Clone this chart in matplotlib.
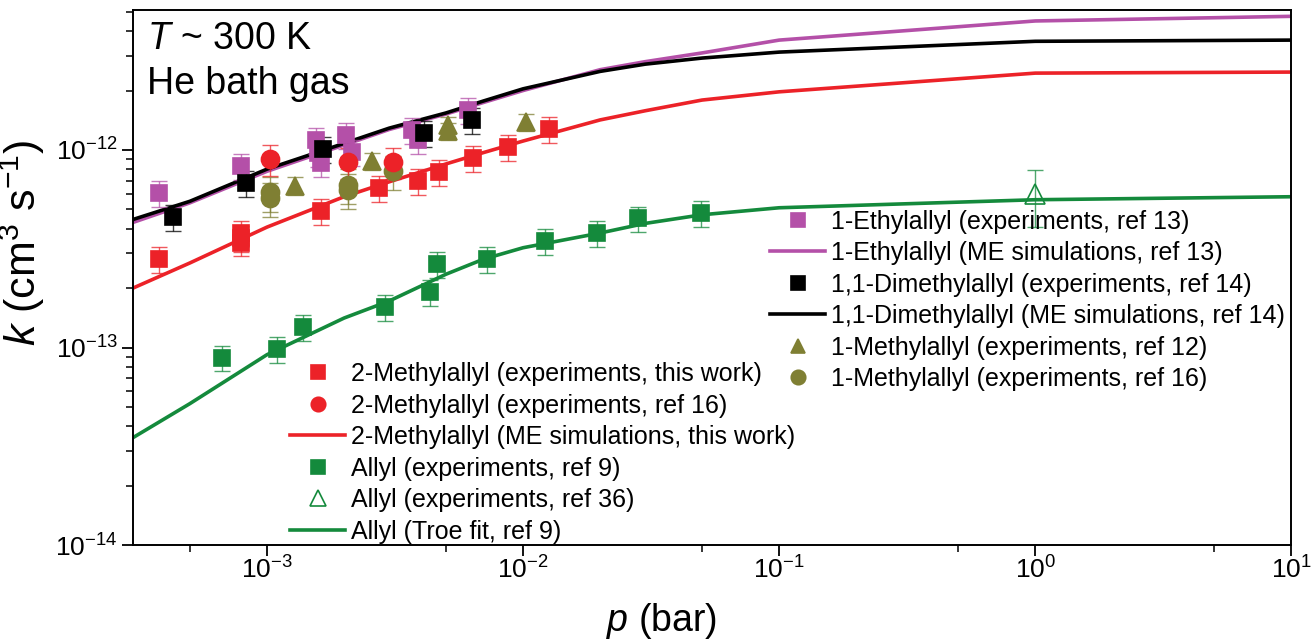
import matplotlib
matplotlib.use('Agg')
import matplotlib.pyplot as plt
import matplotlib.ticker as ticker
import numpy as np

plt.rcParams['font.family'] = ['Liberation Sans', 'DejaVu Sans']
plt.rcParams['mathtext.fontset'] = 'custom'
plt.rcParams['mathtext.rm'] = 'Liberation Sans'
plt.rcParams['mathtext.it'] = 'Liberation Sans:italic'
plt.rcParams['mathtext.default'] = 'regular'

# ---- data (p in bar, k in cm^3 s^-1) ----
ethyl_p = [3.8e-4, 7.9e-4, 1.55e-3, 1.58e-3, 1.62e-3, 2.03e-3, 2.14e-3, 3.7e-3, 3.9e-3, 6.1e-3]
ethyl_k = [6.05e-13, 8.3e-13, 1.12e-12, 9.6e-13, 8.6e-13, 1.19e-12, 9.8e-13, 1.26e-12, 1.12e-12, 1.6e-12]

dimethyl_p = [4.3e-4, 8.3e-4, 1.65e-3, 4.1e-3, 6.3e-3]
dimethyl_k = [4.6e-13, 6.8e-13, 1.01e-12, 1.22e-12, 1.42e-12]

methyl12_p = [1.29e-3, 2.56e-3, 5.1e-3, 5.1e-3, 1.03e-2]
methyl12_k = [6.6e-13, 8.8e-13, 1.34e-12, 1.25e-12, 1.39e-12]

methyl16_p = [1.03e-3, 1.03e-3, 2.07e-3, 2.07e-3, 3.1e-3]
methyl16_k = [6.1e-13, 5.7e-13, 6.65e-13, 6.3e-13, 7.8e-13]

meallyl_p = [3.8e-4, 7.9e-4, 7.9e-4, 7.9e-4, 1.62e-3, 2.73e-3, 3.9e-3, 4.7e-3, 6.4e-3, 8.7e-3, 1.26e-2]
meallyl_k = [2.8e-13, 3.8e-13, 3.6e-13, 3.4e-13, 4.9e-13, 6.4e-13, 7.0e-13, 7.7e-13, 9.1e-13, 1.03e-12, 1.28e-12]

meallyl16_p = [1.03e-3, 2.07e-3, 3.1e-3]
meallyl16_k = [9.0e-13, 8.7e-13, 8.7e-13]

allyl_p = [6.7e-4, 1.09e-3, 1.38e-3, 2.9e-3, 4.35e-3, 4.6e-3, 7.2e-3, 1.22e-2, 1.94e-2, 2.8e-2, 4.95e-2]
allyl_k = [8.9e-14, 9.8e-14, 1.27e-13, 1.6e-13, 1.9e-13, 2.65e-13, 2.8e-13, 3.46e-13, 3.8e-13, 4.5e-13, 4.8e-13]

allyl36_p = [1.0]
allyl36_k = [6.0e-13]

# model curves
sim_p = [3e-4, 5e-4, 1e-3, 2e-3, 3e-3, 5e-3, 7e-3, 1e-2, 2e-2, 3e-2, 5e-2, 0.1, 1.0, 10.0]
ethyl_sim = [4.3e-13, 5.4e-13, 7.8e-13, 1.06e-12, 1.27e-12, 1.52e-12, 1.74e-12, 2.0e-12, 2.55e-12, 2.8e-12, 3.1e-12, 3.6e-12, 4.5e-12, 4.75e-12]
dimethyl_sim = [4.45e-13, 5.5e-13, 8.0e-13, 1.08e-12, 1.29e-12, 1.54e-12, 1.77e-12, 2.04e-12, 2.5e-12, 2.72e-12, 2.92e-12, 3.13e-12, 3.55e-12, 3.6e-12]
meallyl_sim = [2.0e-13, 2.68e-13, 4.07e-13, 5.8e-13, 6.9e-13, 8.5e-13, 9.7e-13, 1.11e-12, 1.42e-12, 1.58e-12, 1.79e-12, 1.97e-12, 2.45e-12, 2.48e-12]
allyl_fit = [3.5e-14, 5.2e-14, 9.2e-14, 1.41e-13, 1.72e-13, 2.35e-13, 2.8e-13, 3.2e-13, 3.8e-13, 4.25e-13, 4.7e-13, 5.1e-13, 5.6e-13, 5.8e-13]

x_ticks = [1e-3, 1e-2, 1e-1, 1e0, 1e1]
y_ticks = [1e-14, 1e-13, 1e-12]

c_mag = '#b450a8'
c_blk = '#000000'
c_olv = '#7f7f33'
c_red = '#ec2228'
c_grn = '#148a3c'

fig = plt.figure(figsize=(13.11, 6.39), dpi=100)
ax = fig.add_axes([0.1015, 0.147, 0.8835, 0.837])

def errpts(p, k, color, marker, frac=0.15, ms=12, mfc=None):
    k = np.array(k)
    ax.errorbar(p, k, yerr=frac * k, fmt='none', ecolor=color, elinewidth=1.0,
                capsize=6, capthick=1.0, alpha=0.75, zorder=3)
    h, = ax.plot(p, k, linestyle='none', marker=marker, markersize=ms, color=color,
                 markerfacecolor=mfc if mfc else color, markeredgewidth=1.2, zorder=4)
    return h

# lines
l_eth, = ax.plot(sim_p, ethyl_sim, color=c_mag, lw=2.6, zorder=2)
l_dim, = ax.plot(sim_p, dimethyl_sim, color=c_blk, lw=2.6, zorder=2)
l_me, = ax.plot(sim_p, meallyl_sim, color=c_red, lw=2.6, zorder=2)
l_al, = ax.plot(sim_p, allyl_fit, color=c_grn, lw=2.6, zorder=2)

h_eth = errpts(ethyl_p, ethyl_k, c_mag, 's')
h_dim = errpts(dimethyl_p, dimethyl_k, c_blk, 's')
h_m12 = errpts(methyl12_p, methyl12_k, c_olv, '^', frac=0.1, ms=13)
h_m16 = errpts(methyl16_p, methyl16_k, c_olv, 'o', frac=0.2, ms=13)
h_me = errpts(meallyl_p, meallyl_k, c_red, 's')
h_me16 = errpts(meallyl16_p, meallyl16_k, c_red, 'o', frac=0.18, ms=13)
h_al = errpts(allyl_p, allyl_k, c_grn, 's')
h_al36 = errpts(allyl36_p, allyl36_k, c_grn, '^', frac=0.32, ms=14, mfc='none')

ax.set_xscale('log')
ax.set_yscale('log')
ax.set_xlim(3e-4, 10)
ax.set_ylim(1e-14, 5.1e-12)

# fixed ticks, only inside the view
ax.xaxis.set_major_locator(ticker.FixedLocator(x_ticks))
ax.xaxis.set_major_formatter(ticker.LogFormatterSciNotation())
x_minor = [5 * t for t in [1e-4] + x_ticks[:-1]]
ax.xaxis.set_minor_locator(ticker.FixedLocator(x_minor))
ax.xaxis.set_minor_formatter(ticker.NullFormatter())
ax.yaxis.set_major_locator(ticker.FixedLocator(y_ticks))
ax.yaxis.set_major_formatter(ticker.LogFormatterSciNotation())
y_minor = [m * t for t in y_ticks for m in range(2, 10) if m * t < 5.1e-12]
ax.yaxis.set_minor_locator(ticker.FixedLocator(y_minor))
ax.yaxis.set_minor_formatter(ticker.NullFormatter())

ax.tick_params(which='major', direction='out', length=8, width=1.3, labelsize=19, pad=3)
ax.tick_params(axis='x', which='major', pad=0)
ax.tick_params(which='minor', direction='out', length=5, width=1.1)
ax.tick_params(top=False, right=False)
for s in ax.spines.values():
    s.set_linewidth(1.4)

ax.set_xlabel('$\\it{p}$ (bar)', fontsize=27)
ax.xaxis.set_label_coords(0.456, -0.104)
ax.set_ylabel('$\\it{k}$ (cm$^3$ s$^{-1}$)', fontsize=31)
ax.yaxis.set_label_coords(-0.074, 0.566)

ax.text(0.012, 0.98, '$\\it{T}$ ~ 300 K', transform=ax.transAxes, fontsize=27, va='top')
ax.text(0.012, 0.895, 'He bath gas', transform=ax.transAxes, fontsize=27, va='top')

leg_kw = dict(frameon=False, fontsize=18, handlelength=2.2, handletextpad=0.25,
              labelspacing=0.3, borderaxespad=0, borderpad=0, markerscale=0.8,
              loc='upper left')

leg1 = ax.legend([h_eth, l_eth, h_dim, l_dim, h_m12, h_m16],
                 ['1-Ethylallyl (experiments, ref 13)',
                  '1-Ethylallyl (ME simulations, ref 13)',
                  '1,1-Dimethylallyl (experiments, ref 14)',
                  '1,1-Dimethylallyl (ME simulations, ref 14)',
                  '1-Methylallyl (experiments, ref 12)',
                  '1-Methylallyl (experiments, ref 16)'],
                 bbox_to_anchor=(0.55, 0.627), **leg_kw)
ax.add_artist(leg1)

ax.legend([h_me, h_me16, l_me, h_al, h_al36, l_al],
          ['2-Methylallyl (experiments, this work)',
           '2-Methylallyl (experiments, ref 16)',
           '2-Methylallyl (ME simulations, this work)',
           'Allyl (experiments, ref 9)',
           'Allyl (experiments, ref 36)',
           'Allyl (Troe fit, ref 9)'],
          bbox_to_anchor=(0.1356, 0.342), **leg_kw)

fig.savefig('out.png', dpi=100)
